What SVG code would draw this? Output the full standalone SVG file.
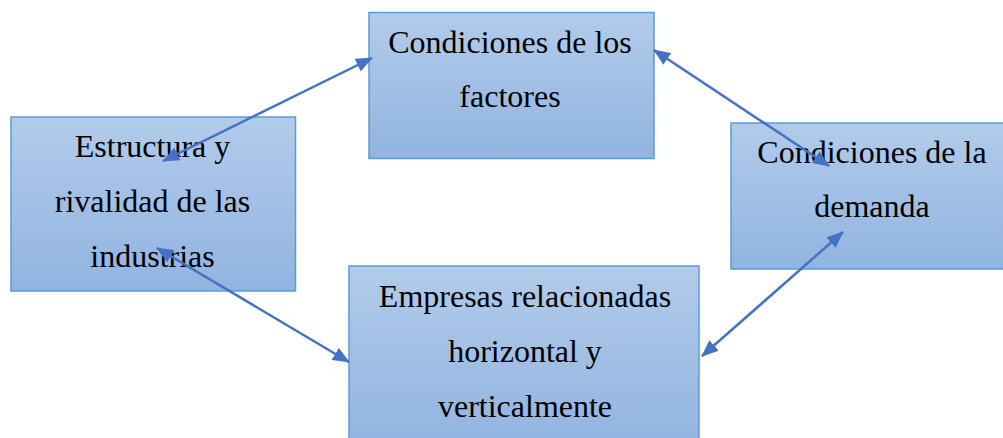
<svg xmlns="http://www.w3.org/2000/svg" width="1003" height="438" viewBox="0 0 1003 438">
<defs>
<linearGradient id="g" x1="0" y1="0" x2="0" y2="1">
<stop offset="0" stop-color="#b2cbea"/>
<stop offset="1" stop-color="#91b4e0"/>
</linearGradient>
<marker id="ah" viewBox="0 0 17 14" refX="16" refY="7" markerWidth="17" markerHeight="14" markerUnits="userSpaceOnUse" orient="auto-start-reverse">
<path d="M0,0 L17,7 L0,14 z" fill="#4472c4"/>
</marker>
<style>
.box{fill:url(#g);stroke:#5b9bd5;stroke-width:1.5}
.t{font-family:"Liberation Serif","Times New Roman",serif;font-size:32px;fill:#000;text-anchor:middle}
.c{stroke:#4472c4;stroke-width:2.5;fill:none;marker-start:url(#ah);marker-end:url(#ah)}
</style>
</defs>
<rect width="1003" height="438" fill="#fff"/>
<g id="factores">
<rect class="box" x="369" y="12.5" width="285" height="146"/>
<text class="t" x="510" y="52.5">Condiciones de los</text>
<text class="t" x="510" y="107">factores</text>
</g>
<g id="estructura">
<rect class="box" x="11" y="117" width="284.5" height="174"/>
<text class="t" x="152.5" y="156.5">Estructura y</text>
<text class="t" x="152.5" y="211.5">rivalidad de las</text>
<text class="t" x="152.5" y="266.5">industrias</text>
</g>
<g id="demanda">
<rect class="box" x="731" y="123" width="285" height="146"/>
<text class="t" x="872" y="162.5">Condiciones de la</text>
<text class="t" x="872" y="217">demanda</text>
</g>
<g id="empresas">
<rect class="box" x="349" y="266" width="350" height="180"/>
<text class="t" x="525" y="307">Empresas relacionadas</text>
<text class="t" x="525" y="362">horizontal y</text>
<text class="t" x="525" y="417">verticalmente</text>
</g>
<g id="connectors">
<line class="c" x1="163" y1="161" x2="372" y2="58"/>
<line class="c" x1="654" y1="50" x2="829" y2="166"/>
<line class="c" x1="157" y1="248" x2="349" y2="362"/>
<line class="c" x1="843" y1="232" x2="702" y2="356"/>
</g>
</svg>
